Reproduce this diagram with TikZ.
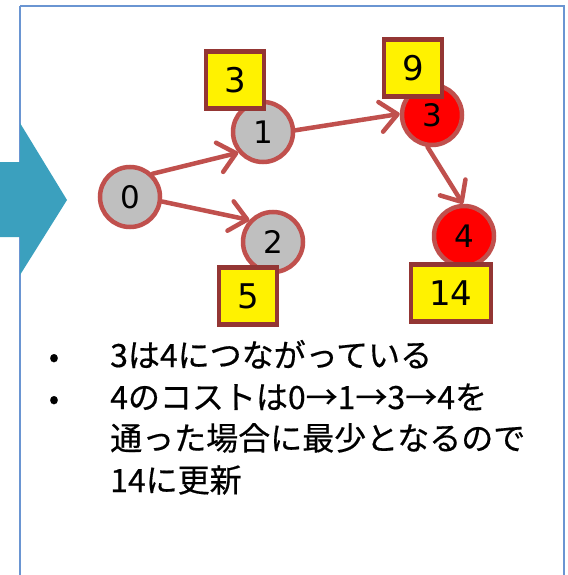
\documentclass[tikz,border=0pt]{standalone}
\usepackage{fontspec}
\setmainfont{Noto Sans CJK JP}
\newfontfamily\txtfont{Noto Sans CJK JP}[FakeBold=0.5]
\newfontfamily\numfont{DejaVu Sans}
\usetikzlibrary{arrows.meta}
\definecolor{edgered}{HTML}{C0504D}
\definecolor{boxbrown}{HTML}{943634}
\definecolor{nodegray}{HTML}{BFBFBF}
\definecolor{framblue}{HTML}{6A95D2}
\definecolor{arrowblue}{HTML}{3BA0BE}
\tikzset{
  circnode/.style={circle, draw=edgered, line width=4.5pt, fill=nodegray, minimum size=60pt, inner sep=0pt,
    font=\numfont\fontsize{31}{31}\selectfont},
  rednode/.style={circnode, fill=red},
  costbox/.style={rectangle, draw=boxbrown, fill=yellow, line width=4.5pt, minimum width=58pt, minimum height=57pt,
    inner sep=0pt, font=\numfont\fontsize{34}{34}\selectfont},
  edge/.style={draw=edgered, line width=4.5pt, line cap=round,
    -{Straight Barb[length=17pt,width=30pt,line cap=round,line join=round]}},
  txt/.style={anchor=base west, inner sep=0pt, font=\txtfont\fontsize{32}{32}\selectfont},
  bul/.style={anchor=base, inner sep=0pt, font=\txtfont\fontsize{30}{30}\selectfont}
}
\begin{document}
\begin{tikzpicture}[x=1pt,y=-1pt]
\useasboundingbox (0,0) rectangle (567,575);
\fill[white] (0,0) rectangle (567,575);
% frame
\draw[framblue, line width=2.2pt] (20,6) -- (564,6) -- (564,580);
\draw[framblue, line width=2.2pt] (20,6) -- (20,580);
% big arrow
\fill[arrowblue] (0,162) -- (20,162) -- (20,123) -- (67,200) -- (20,275) -- (20,237) -- (0,237) -- cycle;
% nodes
\node[circnode] (n0) at (130,197) {0};
\node[circnode] (n1) at (263,132) {1};
\node[circnode] (n2) at (273,242) {2};
\node[rednode]  (n3) at (432,115) {3};
\node[rednode]  (n4) at (464,236) {4};
% edges
\draw[edge] (n0.46) -- (n1.220);
\draw[edge] (n0.-8) -- (n2.137);
\draw[edge] (n1.3) -- (n3.178);
\draw[edge] (n3.262) -- (n4.92);
% cost boxes
\node[costbox] (c1) at (235,80) {3};
\node[costbox] (c2) at (248,296) {5};
\node[costbox] (c3) at (413,68) {9};
\node[costbox, minimum width=80pt] (c4) at (451,293) {14};
% text
\node[bul] (b1) at (54,367) {•};
\node[txt] (t1) at (110,367) {3は4につながっている};
\node[bul] (b2) at (54,409) {•};
\node[txt] (t2) at (110,409) {4のコストは0→1→3→4を};
\node[txt] (t3) at (110,450) {通った場合に最少となるので};
\node[txt] (t4) at (110,492) {14に更新};
\end{tikzpicture}
\end{document}
